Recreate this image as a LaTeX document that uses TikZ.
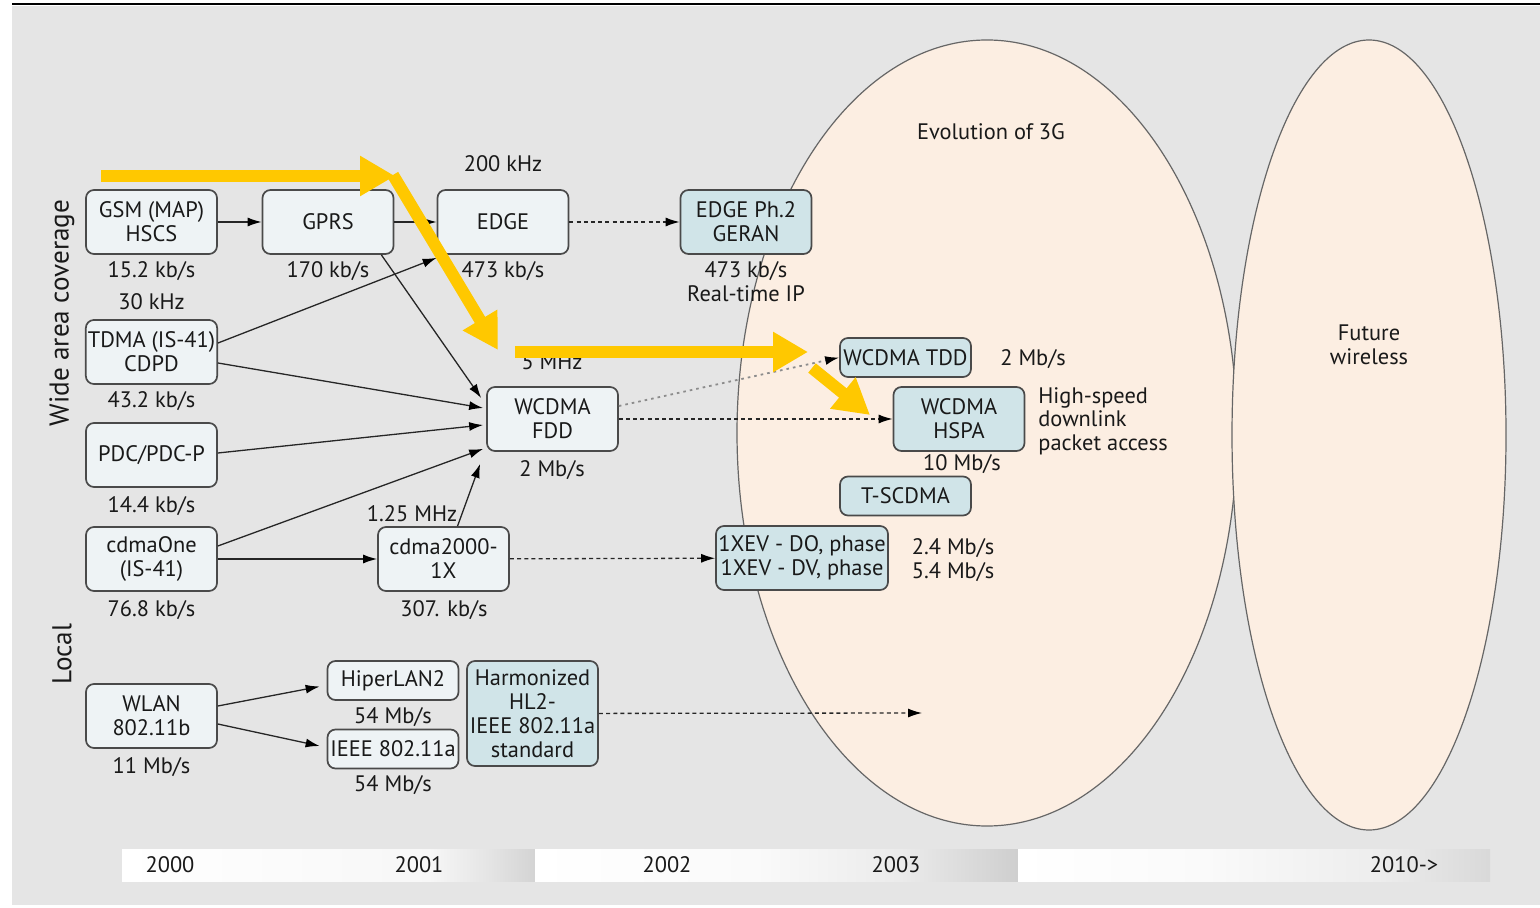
\documentclass[tikz,border=0pt]{standalone}
\usepackage{fontspec}
\setmainfont{PT Sans}
\usetikzlibrary{arrows.meta,shapes.geometric}

\definecolor{bg}{HTML}{E5E5E5}
\definecolor{lightbox}{HTML}{EEF3F5}
\definecolor{bluebox}{HTML}{D0E4E8}
\definecolor{peach}{HTML}{FCEEE2}
\definecolor{gold}{HTML}{FFC800}
\definecolor{boxline}{HTML}{4A4A4A}

% timeline bar segments: white fading to grey at the right end
\pgfdeclarehorizontalshading{tlA}{100bp}{color(0bp)=(white); color(25bp)=(white); color(62bp)=(white!97!black); color(69bp)=(white!90!black); color(75bp)=(white!83!black); color(100bp)=(white!83!black)}
\pgfdeclarehorizontalshading{tlB}{100bp}{color(0bp)=(white); color(25bp)=(white); color(48bp)=(white!98!black); color(63bp)=(white!92!black); color(75bp)=(white!81!black); color(100bp)=(white!81!black)}
\pgfdeclarehorizontalshading{tlC}{100bp}{color(0bp)=(white); color(25bp)=(white); color(45bp)=(white!98!black); color(63bp)=(white!93!black); color(75bp)=(white!85!black); color(100bp)=(white!85!black)}

\tikzset{
  txt/.style={font=\fontsize{11.2}{12}\selectfont, text=black!90},
  lbox/.style={txt, draw=boxline, line width=0.85pt, fill=lightbox, rounded corners=4pt,
    minimum width=65.5pt, minimum height=32pt, align=center, inner sep=1pt},
  bbox/.style={lbox, fill=bluebox},
  slim/.style={minimum height=19.5pt},
  lbl/.style={txt, inner sep=0pt, text height=9pt, text depth=1pt},
  link/.style={draw=black!85, line width=0.65pt, -{Latex[length=7pt,width=4.5pt,color=black]}},
  dlink/.style={link, dash pattern=on 2pt off 1.6pt},
  glink/.style={link, draw=black!45, line width=0.9pt, dash pattern=on 1.3pt off 2pt},
  hl/.style={draw=gold, line width=6pt, -{Triangle[length=17.5pt,width=19pt]}},
  zone/.style={fill=peach, draw=black!60, line width=0.6pt},
  side/.style={txt, rotate=90, font=\fontsize{13.6}{14}\selectfont},
  year/.style={txt, inner sep=0pt}
}

\begin{document}
\begin{tikzpicture}[x=0.5pt,y=-0.5pt]
\useasboundingbox (0,0) rectangle (1540,908);
\fill[white] (0,0) rectangle (1540,908);
\fill[bg] (12,6) rectangle (1540,905);
\draw[line width=1.4pt] (12,4) -- (1540,4);

% evolution zones
\draw[zone] (987,433) ellipse [x radius=125pt, y radius=196.5pt];
\draw[zone] (1369,435) ellipse [x radius=68.5pt, y radius=197.5pt];
\node[txt] (z3g) at (991,132) {Evolution of 3G};
\node[txt, align=center] (zfut) at (1369,345) {Future\\wireless};

% side labels
\node[side] (wide) at (62,313) {Wide area coverage};
\node[side] (local) at (62,654) {Local};

% technology boxes
\node[lbox] (gsm) at (151.5,222) {GSM (MAP)\\HSCS};
\node[lbox] (gprs) at (328,222) {GPRS};
\node[lbox] (edge) at (503,222) {EDGE};
\node[bbox] (edge2) at (746,222) {EDGE Ph.2\\GERAN};
\node[lbox] (tdma) at (151.5,352) {TDMA (IS-41)\\CDPD};
\node[lbox] (pdc) at (151.5,455) {PDC/PDC-P};
\node[lbox] (cdone) at (151.5,559) {cdmaOne\\(IS-41)};
\node[lbox] (fdd) at (552.5,419) {WCDMA\\FDD};
\node[lbox] (cd2k) at (443.5,559) {cdma2000-\\1X};
\node[bbox, minimum width=86pt, inner sep=0pt] (ev) at (802,558) {1XEV - DO, phase\\1XEV - DV, phase};
\node[bbox, slim] (tdd) at (905.5,357.5) {WCDMA TDD};
\node[bbox] (hspa) at (959,419) {WCDMA\\HSPA};
\node[bbox, slim] (tsc) at (905.5,496) {T-SCDMA};
\node[lbox] (wlan) at (151.5,716) {WLAN\\802.11b};
\node[lbox, slim] (hiper) at (393,680.5) {HiperLAN2};
\node[lbox, slim, inner sep=0pt] (ieee) at (393,749) {IEEE 802.11a};
\node[bbox, minimum height=52.5pt, inner sep=0pt] (harm) at (532.5,713.5) {Harmonized\\HL2-\\IEEE 802.11a\\standard};

% rates and bandwidths
\node[lbl] (f200) at (503,164) {200 kHz};
\node[lbl] (rgsm) at (151.5,270) {15.2 kb/s};
\node[lbl] (rgprs) at (328,270) {170 kb/s};
\node[lbl] (redge) at (503,270) {473 kb/s};
\node[lbl] (redge2) at (746,270) {473 kb/s};
\node[lbl] (rtip) at (746,294) {Real-time IP};
\node[lbl] (f30) at (151.5,302) {30 kHz};
\node[lbl] (rtdma) at (151.5,400) {43.2 kb/s};
\node[lbl] (rpdc) at (151.5,504) {14.4 kb/s};
\node[lbl] (rcdone) at (151.5,608) {76.8 kb/s};
\node[lbl] (f5) at (552,362) {5 MHz};
\node[lbl] (rfdd) at (552,468) {2 Mb/s};
\node[lbl] (f125) at (412,513) {1.25 MHz};
\node[lbl] (rcd2k) at (444,608) {307. kb/s};
\node[lbl] (rtdd) at (1033,358) {2 Mb/s};
\node[txt, anchor=west, align=left, inner sep=0pt, font=\fontsize{11.2}{11.8}\selectfont] (hsdpa) at (1038,421) {High-speed\\downlink\\packet access};
\node[lbl] (rhspa) at (962,463) {10 Mb/s};
\node[txt, align=left, inner sep=0pt] (rev) at (953,560) {2.4 Mb/s\\5.4 Mb/s};
\node[lbl] (rhiper) at (393,715) {54 Mb/s};
\node[lbl] (rieee) at (393,783) {54 Mb/s};
\node[lbl] (rwlan) at (151.5,765) {11 Mb/s};

% migration paths
\draw[link] (gsm) -- (gprs);
\draw[link] (gprs) -- (edge);
\draw[dlink] (edge) -- (edge2);
\draw[link] ([xshift=-6.5pt]gprs.south east) -- ([xshift=-2.5pt,yshift=10.5pt]fdd.west);
\draw[link] ([yshift=4.5pt]tdma.east) -- ([yshift=-1.5pt]edge.south west);
\draw[link] ([yshift=-5.5pt]tdma.east) -- ([xshift=-1.5pt,yshift=5.5pt]fdd.west);
\draw[link] ([yshift=1pt]pdc.east) -- ([xshift=-1.5pt,yshift=-3pt]fdd.west);
\draw[link] ([yshift=6.5pt]cdone.east) -- ([xshift=-1.5pt,yshift=1.5pt]fdd.south west);
\draw[link] (cdone) -- (cd2k);
\draw[link] ([xshift=7pt]cd2k.north) -- ([xshift=-3pt,yshift=-6pt]fdd.south west);
\draw[glink] ([yshift=6.5pt]fdd.east) -- (tdd.west);
\draw[dlink] (fdd) -- (hspa);
\draw[dlink] (cd2k) -- (ev);
\draw[link] ([yshift=5pt]wlan.east) -- ([xshift=-3.5pt,yshift=-3pt]hiper.west);
\draw[link] ([yshift=-4pt]wlan.east) -- ([xshift=-3.5pt,yshift=1.5pt]ieee.west);
\coordinate (wlanend) at (922,713);
\draw[dlink] (harm) -- (wlanend);

% timeline
\shade[shading=tlA] (122,849) rectangle (535,881);
\shade[shading=tlB] (535,849) rectangle (1018,881);
\shade[shading=tlC] (1018,849) rectangle (1490,881);
\node[year] (y2000) at (170,865) {2000};
\node[year] (y2001) at (419,865) {2001};
\node[year] (y2002) at (667,865) {2002};
\node[year] (y2003) at (896,865) {2003};
\node[year] (y2010) at (1404,865) {2010->};

% highlighted path
\coordinate (h1) at (101,176);
\coordinate (h2) at (395,176);
\coordinate (h3) at (393,175);
\coordinate (h4) at (498,350);
\coordinate (h5) at (515,352);
\coordinate (h6) at (808,352);
\coordinate (h7) at (812,368);
\coordinate (h8) at (870,415);
\draw[hl] (h1) -- (h2);
\draw[hl] (h3) -- (h4);
\draw[hl] (h5) -- (h6);
\draw[hl] (h7) -- (h8);
\end{tikzpicture}
\end{document}
